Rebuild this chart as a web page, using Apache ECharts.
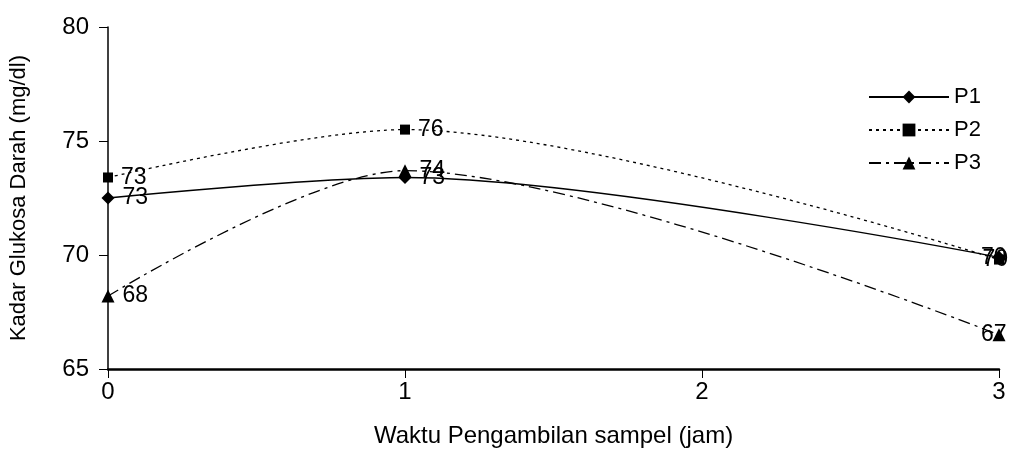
<!DOCTYPE html>
<html>
<head>
<meta charset="utf-8">
<script src="https://cdn.jsdelivr.net/npm/echarts@6/dist/echarts.min.js"></script>
<style>html,body{margin:0;padding:0;background:#fff;}#c{width:1010px;height:473px;}</style>
</head>
<body>
<div id="c"></div>
<script>
var xValues = [0, 1, 3];
var seriesNames = ['P1', 'P2', 'P3'];
var p1 = [72.5, 73.4, 69.9];
var p2 = [73.4, 75.5, 69.8];
var p3 = [68.2, 73.7, 66.5];
var yTicks = [65, 70, 75, 80];
var xTicks = [0, 1, 2, 3];

var FONT = '"Liberation Sans", Arial, sans-serif';

function build(vals) {
  return vals.map(function (v, i) {
    var item = { value: [xValues[i], v] };
    if (xValues[i] === 3) {
      item.label = { position: 'left', distance: -14 };
    }
    return item;
  });
}

var styles = [
  { symbol: 'diamond', symbolSize: 13, dash: 'solid' },
  { symbol: 'rect', symbolSize: 10, dash: [3, 4] },
  { symbol: 'triangle', symbolSize: 13, dash: [12, 5, 3, 5] }
];
var allVals = [p1, p2, p3];

var chart = echarts.init(document.getElementById('c'), null, { renderer: 'canvas' });
chart.setOption({
  animation: false,
  backgroundColor: '#fff',
  textStyle: { fontFamily: FONT },
  grid: { left: 108, right: 11, top: 27, bottom: 104, containLabel: false },
  legend: {
    orient: 'vertical',
    left: 863,
    top: 81,
    itemWidth: 80,
    itemHeight: 16,
    itemGap: 11,
    textStyle: { fontSize: 22, color: '#000', fontFamily: FONT },
    data: seriesNames
  },
  xAxis: {
    type: 'value',
    min: xTicks[0],
    max: xTicks[xTicks.length - 1],
    interval: 1,
    name: 'Waktu Pengambilan sampel (jam)',
    nameLocation: 'middle',
    nameGap: 55,
    nameTextStyle: { fontSize: 24, color: '#000', fontFamily: FONT },
    axisLine: { lineStyle: { color: '#000', width: 2.5 } },
    axisTick: { show: true, inside: false, length: 9, lineStyle: { color: '#000', width: 1 } },
    axisLabel: { fontSize: 24, color: '#000', margin: 11, fontFamily: FONT },
    splitLine: { show: false }
  },
  yAxis: {
    type: 'value',
    min: yTicks[0],
    max: yTicks[yTicks.length - 1],
    interval: 5,
    name: 'Kadar Glukosa Darah (mg/dl)',
    nameLocation: 'middle',
    nameGap: 78,
    nameTextStyle: { fontSize: 22, color: '#000', fontFamily: FONT },
    axisLine: { show: true, lineStyle: { color: '#000', width: 1.5 } },
    axisTick: { show: true, inside: false, length: 9, lineStyle: { color: '#000', width: 1 } },
    axisLabel: { fontSize: 24, color: '#000', margin: 19, fontFamily: FONT },
    splitLine: { show: false }
  },
  series: seriesNames.map(function (n, k) {
    return {
      name: n,
      type: 'line',
      smooth: 0.3,
      symbol: styles[k].symbol,
      symbolSize: styles[k].symbolSize,
      showAllSymbol: true,
      clip: false,
      itemStyle: { color: '#000' },
      lineStyle: { color: '#000', width: 1.3, type: styles[k].dash },
      label: {
        show: true,
        position: 'right',
        distance: 8,
        fontSize: 23,
        color: '#000',
        fontFamily: FONT,
        formatter: function (p) { return Math.round(p.value[1]); }
      },
      data: build(allVals[k])
    };
  })
});
</script>
</body>
</html>
